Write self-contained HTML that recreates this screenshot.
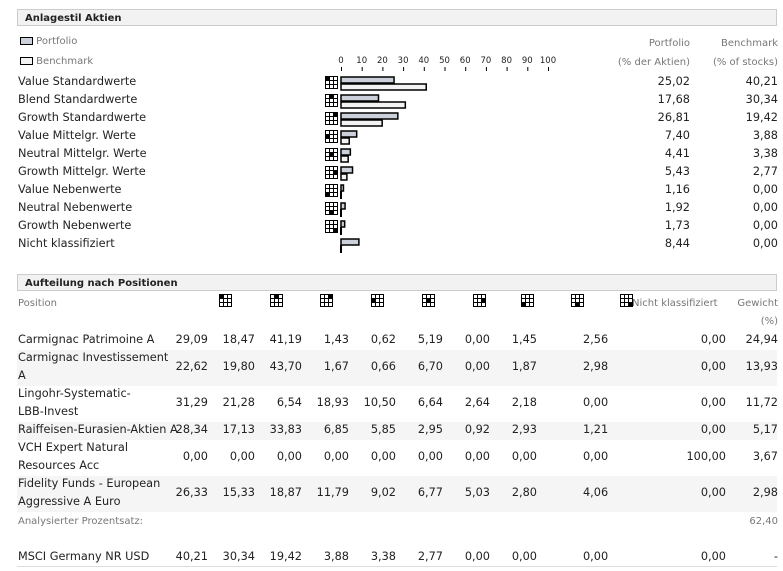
<!DOCTYPE html>
<html><head><meta charset="utf-8">
<style>
body{margin:0;width:783px;height:571px;background:#fff;font-family:"DejaVu Sans","Liberation Sans",sans-serif;font-size:11.3px;color:#222;position:relative;overflow:hidden}
.hdr{position:absolute;left:17px;width:760px;height:17px;background:#f2f2f2;border:1px solid #ccc;font-weight:bold;font-size:10px;line-height:17px;padding-left:7px;box-sizing:border-box}
.t{position:absolute;white-space:nowrap}
.g{color:#777;font-size:10px}
.r{text-align:right}
.row{position:absolute;left:17px;width:760px;background:#f5f5f5}
</style></head><body>
<div class="hdr" style="top:9px">Anlagestil Aktien</div>
<div class="t g" style="left:20px;top:36px"><span style="display:inline-block;width:11px;height:6px;border:1px solid #000;background:#cbd0da;vertical-align:middle"></span> Portfolio</div>
<div class="t g" style="left:20px;top:56px"><span style="display:inline-block;width:11px;height:6px;border:1px solid #000;background:#f3f3f3;vertical-align:middle"></span> Benchmark</div>
<div class="t g r" style="left:590px;width:100px;top:34px;line-height:19px">Portfolio<br>(% der Aktien)</div>
<div class="t g r" style="left:680px;width:98px;top:34px;line-height:19px">Benchmark<br>(% of stocks)</div>
<svg id="chart" style="position:absolute;left:0;top:0" width="783" height="260"></svg>
<div id="labels"></div>

<div class="hdr" style="top:274px">Aufteilung nach Positionen</div>
<div id="table"></div>

<script>
const categories=["Value Standardwerte","Blend Standardwerte","Growth Standardwerte","Value Mittelgr. Werte","Neutral Mittelgr. Werte","Growth Mittelgr. Werte","Value Nebenwerte","Neutral Nebenwerte","Growth Nebenwerte","Nicht klassifiziert"];
const portfolio=[25.02,17.68,26.81,7.40,4.41,5.43,1.16,1.92,1.73,8.44];
const benchmark=[40.21,30.34,19.42,3.88,3.38,2.77,0,0,0,0];
const ticks=[0,10,20,30,40,50,60,70,80,90,100];
const NS="http://www.w3.org/2000/svg";
const svg=document.getElementById('chart');
const x0=341, tickStep=2.07, barScale=2.12;
const xt=v=>x0+v*tickStep, xb=v=>v*barScale;
const rowY=i=>82+i*18;
const fmt=v=>v.toFixed(2).replace('.',',');
function mk(tag,attrs){const e=document.createElementNS(NS,tag);for(const k in attrs)e.setAttribute(k,attrs[k]);svg.appendChild(e);return e;}
ticks.forEach(t=>{
  const tx=mk('text',{x:xt(t),y:63,'font-size':8.5,'text-anchor':'middle','font-family':'DejaVu Sans, sans-serif',fill:'#222'});tx.textContent=t;
  
  
  const l=mk('line',{x1:xt(t)+.5,x2:xt(t)+.5,y1:67,y2:71,stroke:'#000'});
  
  
});
function icon(x,y,cell,name){
  const g=mk('g',{});
  
  
  const s=4;
  for(let r=0;r<3;r++)for(let c=0;c<3;c++){
    const e=document.createElementNS(NS,'rect');
    e.setAttribute('x',x+c*s+.5);e.setAttribute('y',y+r*s+.5);e.setAttribute('width',s);e.setAttribute('height',s);
    e.setAttribute('fill',(r*3+c)===cell?'#000':'#fff');e.setAttribute('stroke','#000');e.setAttribute('stroke-width',1);
    g.appendChild(e);
  }
  return g;
}
const lab=document.getElementById('labels');
categories.forEach((c,i)=>{
  const y=rowY(i);
  const d=document.createElement('div');d.className='t';d.style.left='18px';d.style.top=(y-7)+'px';d.textContent=c;
  
  
  lab.appendChild(d);
  const p=document.createElement('div');p.className='t r';p.style.left='600px';p.style.width='90px';p.style.top=(y-7)+'px';p.textContent=fmt(portfolio[i]);
  
  
  lab.appendChild(p);
  const b=document.createElement('div');b.className='t r';b.style.left='680px';b.style.width='98px';b.style.top=(y-7)+'px';b.textContent=fmt(benchmark[i]);
  
  
  lab.appendChild(b);
  if(i<9) icon(325,y-6,i,'style-box-icon');
  const pr=mk('rect',{x:341,y:y-5,width:Math.max(2,xb(portfolio[i])),height:6,fill:'#cbd0da',stroke:'#000','stroke-width':1.5});
  
  
  const bw=xb(benchmark[i]);
  if(bw>0){const br=mk('rect',{x:341,y:y+2,width:bw,height:6,fill:'#f3f3f3',stroke:'#000','stroke-width':1.5});
    
    }
  else {const bl=mk('line',{x1:341,x2:341,y1:y+1,y2:y+9,stroke:'#000','stroke-width':2});
    
    }
});

const tb=document.getElementById('table');
const colRight=[208,255,302,349,396,443,490,537,605,726,778];
const iconX=[219,270,320,371,422,473,521,571,620];
function add(cls,left,top,w,txt,name,right){
  const d=document.createElement('div');d.className=cls;d.style.top=top+'px';d.textContent=txt;
  if(right){d.style.left=(left-w)+'px';d.style.width=w+'px';d.style.textAlign='right';}else d.style.left=left+'px';
  
  
  tb.appendChild(d);return d;
}
add('t g',18,298,0,'Position','position-col-header',false);
add('t g',632,298,0,'Nicht klassifiziert','nicht-klassifiziert-header',false);
add('t g r',778,298,60,'Gewicht','gewicht-header',true);
add('t g r',778,316,60,'(%)','gewicht-unit',true);
const hsvg=document.createElementNS(NS,'svg');hsvg.setAttribute('width',783);hsvg.setAttribute('height',571);hsvg.style.position='absolute';hsvg.style.left='0';hsvg.style.top='0';
document.body.appendChild(hsvg);
iconX.forEach((x,i)=>{const g=icon(x,294,i,'column-style-icon');hsvg.appendChild(g);});
const rows=[
 {n:["Carmignac Patrimoine A"],v:[29.09,18.47,41.19,1.43,0.62,5.19,0,1.45,2.56,0,24.94],y:340,bg:false},
 {n:["Carmignac Investissement","A"],v:[22.62,19.80,43.70,1.67,0.66,6.70,0,1.87,2.98,0,13.93],y:358,bg:true},
 {n:["Lingohr-Systematic-","LBB-Invest"],v:[31.29,21.28,6.54,18.93,10.50,6.64,2.64,2.18,0,0,11.72],y:394,bg:false},
 {n:["Raiffeisen-Eurasien-Aktien A"],v:[28.34,17.13,33.83,6.85,5.85,2.95,0.92,2.93,1.21,0,5.17],y:430,bg:true},
 {n:["VCH Expert Natural","Resources Acc"],v:[0,0,0,0,0,0,0,0,0,100,3.67],y:448,bg:false},
 {n:["Fidelity Funds - European","Aggressive A Euro"],v:[26.33,15.33,18.87,11.79,9.02,6.77,5.03,2.80,4.06,0,2.98],y:484,bg:true},
];
rows.forEach(r=>{
  const two=r.n.length>1;
  if(r.bg){const b=document.createElement('div');b.className='row';b.style.top=(r.y-8)+'px';b.style.height=(two?36:18)+'px';
    
    
    tb.appendChild(b);}
  r.n.forEach((s,k)=>add('t',18,r.y-7+k*18,0,s,'fund-name',false));
  const vy=r.y-7+(two?9:0);
  r.v.forEach((v,j)=>{
    if(j===8) add('t',583,vy,0,fmt(v),'style-value',false);
    else add('t',colRight[j],vy,60,fmt(v),j===10?'weight-value':'style-value',true);
  });
});
add('t g',18,516,0,'Analysierter Prozentsatz:','analysed-percentage-label',false);
add('t g r',778,516,60,'62,40','analysed-percentage-value',true);
const msci=[40.21,30.34,19.42,3.88,3.38,2.77,0,0,0,0];
add('t',18,550,0,'MSCI Germany NR USD','benchmark-name',false);
msci.forEach((v,j)=>{
  if(j===8) add('t',583,550,0,fmt(v),'benchmark-style-value',false);
  else add('t',colRight[j],550,60,fmt(v),'benchmark-style-value',true);
});
add('t r',778,550,30,'-','benchmark-weight',true);
const line=document.createElement('div');line.style.cssText='position:absolute;left:17px;top:566px;width:760px;height:1px;background:#ddd';


tb.appendChild(line);
</script>
</body></html>
